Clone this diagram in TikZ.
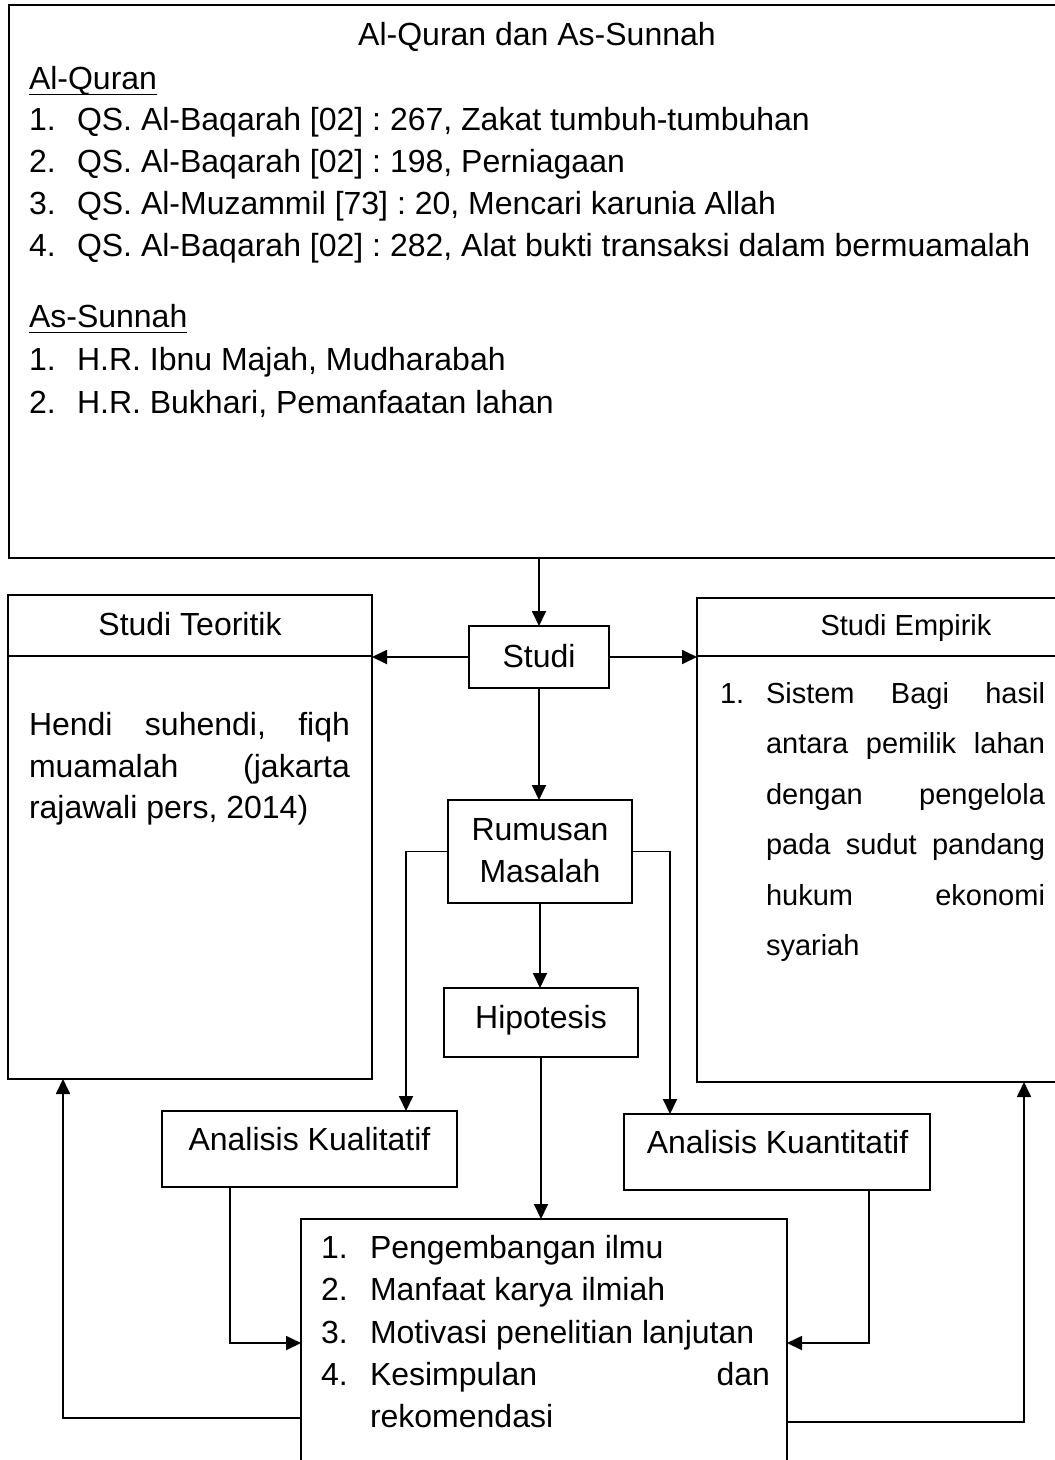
\documentclass[tikz,border=0pt]{standalone}
\usepackage{fontspec}
\setmainfont{Liberation Sans}
\usetikzlibrary{arrows.meta}
% underlined heading word
\newcommand\ulword[1]{\setbox0\hbox{#1}\rlap{\rule[-6.3pt]{\wd0}{1.6pt}}#1}
\begin{document}
\frenchspacing
\begin{tikzpicture}[x=1pt,y=-1pt,
  font=\fontsize{32}{38}\selectfont,
  frame/.style={draw, line width=1.9pt, inner sep=0pt, outer sep=0pt},
  conn/.style={line width=1.8pt, -{Triangle[length=15pt,width=14pt]}},
  wire/.style={line width=1.9pt},
  lbl/.style={inner sep=0pt, outer sep=0pt, anchor=base},
  lbll/.style={inner sep=0pt, outer sep=0pt, anchor=base west},
  small/.style={font=\fontsize{29}{35}\selectfont}]
\useasboundingbox (0,0) rectangle (1055,1460);

% ---- boxes ----
\node[frame, minimum width=1066pt, minimum height=553pt] (src)   at (542,281.5) {};
\node[frame, minimum width=364pt,  minimum height=484pt] (teo)   at (190,837) {};
\node[frame, minimum width=378pt,  minimum height=484pt] (emp)   at (886,840) {};
\node[frame, minimum width=140pt,  minimum height=62pt]  (studi) at (539,657) {};
\node[frame, minimum width=184pt,  minimum height=103pt] (rum)   at (540,851.5) {};
\node[frame, minimum width=194pt,  minimum height=69pt]  (hip)   at (541,1022.5) {};
\node[frame, minimum width=295pt,  minimum height=76pt]  (kual)  at (309.5,1149) {};
\node[frame, minimum width=306pt,  minimum height=76pt]  (kuan)  at (777,1152) {};
\node[frame, minimum width=486pt,  minimum height=248pt] (res)   at (544,1343) {};

% header dividers of the two study boxes
\coordinate (dv) at (0,656);
\draw[wire] (teo.west |- dv) -- (teo.east |- dv);
\draw[wire] (emp.west |- dv) -- (emp.east |- dv);

% ---- connectors ----
\draw[conn] (studi.north |- src.south) -- (studi.north);
\draw[conn] (studi.west) -- (studi.west -| teo.east);
\draw[conn] (studi.east) -- (studi.east -| emp.west);
\draw[conn] (studi.south) -- (rum.north -| studi.south);
\draw[conn] (rum.west) -| ([xshift=96.5pt]kual.north);
\draw[conn] (rum.east) -| ([xshift=-107pt]kuan.north);
\draw[conn] (rum.south) -- (hip.north -| rum.south);
\draw[conn] (hip.south) -- (res.north -| hip.south);
\draw[conn] ([xshift=-79.5pt]kual.south) |- (res.west);
\draw[conn] ([xshift=92pt]kuan.south) |- (res.east);
\draw[conn] ([yshift=-75pt]res.west) -| ([xshift=-127pt]teo.south);
\draw[conn] ([yshift=-79pt]res.east) -| ([xshift=138pt]emp.south);

% ---- sources ----
\node[lbl]  (srcT) at (537,45) {Al-Quran dan As-Sunnah};
\node[lbll] (qh)   at (29,89) {\ulword{Al-Quran}};
\node[lbll] (qn1)  at (29,130) {1.};
\node[lbll] (qt1)  at (77,130) {QS. Al-Baqarah [02] : 267, Zakat tumbuh-tumbuhan};
\node[lbll] (qn2)  at (29,172) {2.};
\node[lbll] (qt2)  at (77,172) {QS. Al-Baqarah [02] : 198, Perniagaan};
\node[lbll] (qn3)  at (29,214) {3.};
\node[lbll] (qt3)  at (77,214) {QS. Al-Muzammil [73] : 20, Mencari karunia Allah};
\node[lbll] (qn4)  at (29,256) {4.};
\node[lbll] (qt4)  at (77,256) {QS. Al-Baqarah [02] : 282, Alat bukti transaksi dalam bermuamalah};
\node[lbll] (sh)   at (29,327) {\ulword{As-Sunnah}};
\node[lbll] (sn1)  at (29,370) {1.};
\node[lbll] (st1)  at (77,370) {H.R. Ibnu Majah, Mudharabah};
\node[lbll] (sn2)  at (29,413) {2.};
\node[lbll] (st2)  at (77,413) {H.R. Bukhari, Pemanfaatan lahan};

% ---- theoretical study ----
\node[lbl]  (teoT) at (190,635) {Studi Teoritik};
\node[lbll] (teo1) at (29,735) {\makebox[321pt][s]{Hendi\hfill suhendi,\hfill fiqh}};
\node[lbll] (teo2) at (29,777) {\makebox[321pt][s]{muamalah\hfill (jakarta}};
\node[lbll] (teo3) at (29,818) {rajawali pers, 2014)};

% ---- empirical study ----
\node[lbl,small]  (empT) at (906,635) {Studi Empirik};
\node[lbll,small] (e0) at (720,703) {1.};
\node[lbll,small] (e1) at (766,703) {\makebox[279pt][s]{Sistem\hfill Bagi\hfill hasil}};
\node[lbll,small] (e2) at (766,753.5) {\makebox[279pt][s]{antara\hfill pemilik\hfill lahan}};
\node[lbll,small] (e3) at (766,804) {\makebox[279pt][s]{dengan\hfill pengelola}};
\node[lbll,small] (e4) at (766,854.5) {\makebox[279pt][s]{pada\hfill sudut\hfill pandang}};
\node[lbll,small] (e5) at (766,905) {\makebox[279pt][s]{hukum\hfill ekonomi}};
\node[lbll,small] (e6) at (766,955.5) {syariah};

% ---- flow labels ----
\node[lbl] (studiT) at (539,667) {Studi};
\node[lbl] (rumT1)  at (540,840) {Rumusan};
\node[lbl] (rumT2)  at (540,882) {Masalah};
\node[lbl] (hipT)   at (541,1028) {Hipotesis};
\node[lbl] (kualT)  at (309.5,1150) {Analisis Kualitatif};
\node[lbl] (kuanT)  at (777.5,1153) {Analisis Kuantitatif};

% ---- outcomes ----
\node[lbll] (rn1) at (321,1258) {1.};
\node[lbll] (rt1) at (370,1258) {Pengembangan ilmu};
\node[lbll] (rn2) at (321,1300) {2.};
\node[lbll] (rt2) at (370,1300) {Manfaat karya ilmiah};
\node[lbll] (rn3) at (321,1343) {3.};
\node[lbll] (rt3) at (370,1343) {Motivasi penelitian lanjutan};
\node[lbll] (rn4) at (321,1385) {4.};
\node[lbll] (rt4) at (370,1385) {\makebox[400pt][s]{Kesimpulan\hfill dan}};
\node[lbll] (rt5) at (370,1427) {rekomendasi};
\end{tikzpicture}
\end{document}
